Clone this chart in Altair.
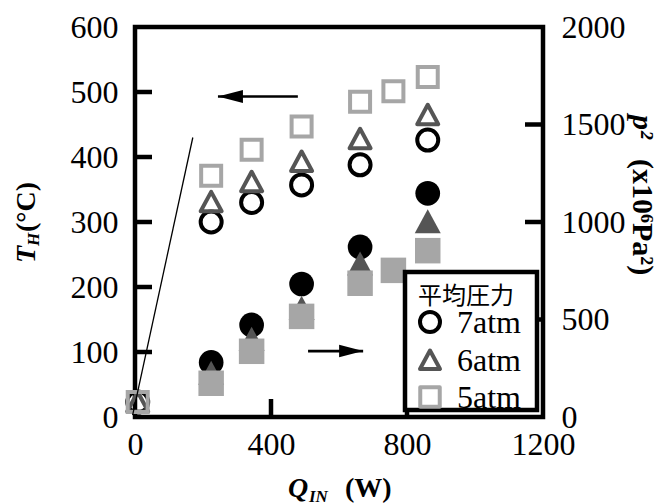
import altair as alt
import pandas as pd

# ---------------- data ----------------
q_in = [224, 343, 490, 662, 861]             # Q_IN (W), 7atm & 6atm
q_in_5 = [224, 343, 490, 662, 760, 861]      # Q_IN (W), 5atm
q_zero = [8]
th_zero = [23]

th_7 = [300, 330, 357, 388, 426]             # T_H (degC)
th_6 = [331, 362, 393, 428, 465]
th_5 = [371, 411, 447, 485, 501, 523]

p2_7 = [280, 472, 682, 872, 1147]            # p^2 (x10^6 Pa^2)
p2_6 = [225, 400, 558, 786, 1002]
p2_5 = [173, 337, 516, 686, 752, 853]

fit_w = [-7, 170]                            # thin guide line
fit_t = [3, 430]

arrowL_w = [479, 244]                        # arrow to the left axis
arrowL_t = [493, 493]
arrowR_w = [509, 671]                        # arrow to the right axis
arrowR_p = [338, 338]

left_ticks = [100, 200, 300, 400, 500]
right_ticks = [500, 1000, 1500]
bottom_ticks = [400, 800]
legend_labels = ["7atm", "6atm", "5atm"]

# ---------------- styling ----------------
W, H = 408, 390
SERIF = "Liberation Serif"
C7, C6, C5 = "#000000", "#555555", "#a6a6a6"
TRI = "M0,-0.95L1,0.9L-1,0.9Z"
AX_W = 4.5

xscale = alt.Scale(domain=[0, 1200], nice=False, zero=False)
lscale = alt.Scale(domain=[0, 600], nice=False)
rscale = alt.Scale(domain=[0, 2000], nice=False)

common = dict(ticks=False, tickSize=0, domain=False, grid=False, format="d",
              labelFont=SERIF, labelFontSize=32, labelColor="black",
              labelFlush=False, labelOverlap=False, title=None)
xaxis = alt.Axis(values=[0, 400, 800, 1200], labelPadding=12, **common)
laxis = alt.Axis(orient="left", values=[0, 100, 200, 300, 400, 500, 600], labelPadding=17, **common)
raxis = alt.Axis(orient="right", values=[0, 500, 1000, 1500, 2000], labelPadding=18, **common)

X = alt.X("W:Q", scale=xscale, axis=xaxis)
YL = alt.Y("T:Q", scale=lscale, axis=laxis)
YR = alt.Y("P:Q", scale=rscale, axis=raxis)


def df_t(w, t):
    return pd.DataFrame({"W": w, "T": t})


def df_p(w, p):
    return pd.DataFrame({"W": w, "P": p})


one = pd.DataFrame({"d": [0]})

# ---------------- left (T_H) group: open markers ----------------
open_c = alt.Chart(df_t(q_zero + q_in, th_zero + th_7)).mark_point(
    shape="circle", filled=False, color=C7, strokeWidth=4, size=441, opacity=1).encode(x=X, y=YL)
open_t = alt.Chart(df_t(q_zero + q_in, th_zero + th_6)).mark_point(
    shape=TRI, filled=False, color=C6, strokeWidth=4, size=441, opacity=1,
    strokeJoin="round").encode(x=X, y=YL)
open_s = alt.Chart(df_t(q_zero + q_in_5, th_zero + th_5)).mark_point(
    shape="square", filled=False, color=C5, strokeWidth=4, size=400, opacity=1).encode(x=X, y=YL)
fit = alt.Chart(df_t(fit_w, fit_t)).mark_line(color="black", strokeWidth=1.3).encode(x=X, y=YL)
arrL = alt.Chart(df_t(arrowL_w, arrowL_t)).mark_line(color="black", strokeWidth=2.6).encode(x=X, y=YL)
arrL_head = alt.Chart(df_t(arrowL_w[1:], arrowL_t[1:])).mark_point(
    shape="M0,0L2,-0.52L2,0.52Z", filled=True, color="black", size=625, opacity=1).encode(x=X, y=YL)
ltick = alt.Chart(pd.DataFrame({"T": left_ticks})).mark_rule(
    color="black", strokeWidth=AX_W).encode(y=YL, x=alt.value(0), x2=alt.value(17))
btick = alt.Chart(pd.DataFrame({"W": bottom_ticks})).mark_rule(
    color="black", strokeWidth=AX_W).encode(x=X, y=alt.value(H), y2=alt.value(H - 18))

left_group = alt.layer(open_c, open_t, open_s, arrL, arrL_head, ltick, btick, fit)

# ---------------- right (p^2) group: filled markers ----------------
fill_c = alt.Chart(df_p(q_in, p2_7)).mark_point(
    shape="circle", filled=True, color=C7, size=610, opacity=1).encode(x=X, y=YR)
fill_t = alt.Chart(df_p(q_in, p2_6)).mark_point(
    shape=TRI, filled=True, color=C6, size=676, opacity=1).encode(x=X, y=YR)
fill_s = alt.Chart(df_p(q_in_5, p2_5)).mark_point(
    shape="square", filled=True, color=C5, size=650, opacity=1).encode(x=X, y=YR)
arrR = alt.Chart(df_p(arrowR_w, arrowR_p)).mark_line(color="black", strokeWidth=2.6).encode(x=X, y=YR)
arrR_head = alt.Chart(df_p(arrowR_w[1:], arrowR_p[1:])).mark_point(
    shape="M0,0L-2,-0.52L-2,0.52Z", filled=True, color="black", size=576, opacity=1).encode(x=X, y=YR)
rtick = alt.Chart(pd.DataFrame({"P": right_ticks})).mark_rule(
    color="black", strokeWidth=AX_W).encode(y=YR, x=alt.value(W - 18), x2=alt.value(W))

right_group = alt.layer(fill_c, fill_t, fill_s, arrR, arrR_head, rtick)

# ---------------- legend (drawn by hand) ----------------
leg_box = alt.Chart(one).mark_rect(fill="white", stroke="black", strokeWidth=AX_W).encode(
    x=alt.value(270), x2=alt.value(402), y=alt.value(245), y2=alt.value(383))
leg_title = alt.Chart(one).mark_text(
    text="平均圧力", font="Noto Sans CJK JP", fontSize=24, align="left", baseline="middle",
    color="black").encode(x=alt.value(283), y=alt.value(270))
leg_items = []
rows_y = [295, 333, 370]
shapes = [("circle", C7, 400), (TRI, C6, 400), ("square", C5, 380)]
for lab, yy, (shp, col, sz) in zip(legend_labels, rows_y, shapes):
    leg_items.append(alt.Chart(one).mark_point(
        shape=shp, filled=False, color=col, strokeWidth=4, size=sz, opacity=1,
        strokeJoin="round").encode(x=alt.value(295), y=alt.value(yy)))
    leg_items.append(alt.Chart(one).mark_text(
        text=lab, font=SERIF, fontSize=32, align="left", baseline="middle",
        color="black").encode(x=alt.value(322), y=alt.value(yy + 1)))

# ---------------- axis titles (rich text pieces) ----------------
def txt(s, x, y, size, style="normal", weight="bold", angle=0):
    return alt.Chart(one).mark_text(
        text=s, font=SERIF, fontSize=size, fontStyle=style, fontWeight=weight,
        align="left", baseline="alphabetic", angle=angle, color="black").encode(
        x=alt.value(x), y=alt.value(y))

titles = [
    txt("T", -100, 236, 28, "italic", angle=270),
    txt("H", -96, 219, 17, "italic", angle=270),
    txt("(°C)", -100, 205, 28, angle=270),
    txt("Q", 153, 470, 28, "italic"),
    txt("IN", 174, 475, 17, "italic"),
    txt("(W)", 210, 470, 28),
    txt("p²", 498, 88, 30, "italic", angle=90),
    txt("(x10⁶Pa²)", 498, 132, 30, angle=90),
]

annot = alt.layer(leg_box, leg_title, *leg_items, *titles)

chart = alt.layer(left_group, right_group, annot).resolve_scale(y="independent").properties(
    width=W, height=H,
    background="white",
    autosize=alt.AutoSizeParams(type="none"),
    padding={"left": 127, "top": 19, "right": 115, "bottom": 86},
).configure_view(stroke="black", strokeWidth=AX_W)

chart.save("out.html", embed_options={"renderer": "svg", "actions": False})
